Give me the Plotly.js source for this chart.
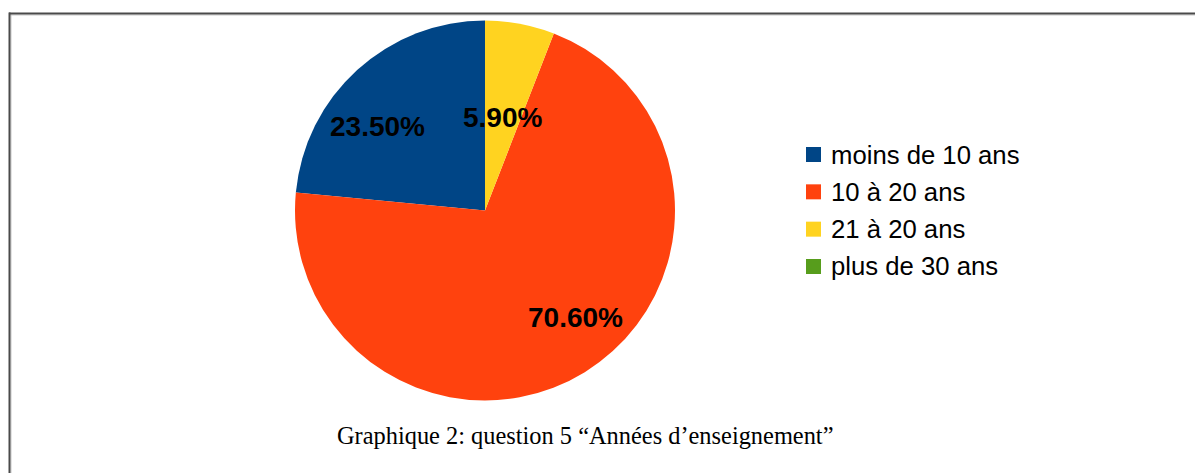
<!DOCTYPE html>
<html>
<head>
<meta charset="utf-8">
<script src="https://cdn.plot.ly/plotly-3.0.1.min.js"></script>
<style>html,body{margin:0;padding:0;background:#fff;}#chart{width:1195px;height:473px;}</style>
</head>
<body>
<div id="chart"></div>
<script>
// ---- data ----
var categories = ["moins de 10 ans", "10 à 20 ans", "21 à 20 ans", "plus de 30 ans"];
var values = [23.5, 70.6, 5.9, 0];
var colors = ["#004586", "#ff420e", "#ffd320", "#579d1c"];
var caption = "Graphique 2: question 5 \u201cAnnées d\u2019enseignement\u201d";

// ---- layout helpers (pixel -> paper) ----
var W = 1195, H = 473;
function px(x) { return x / W; }
function py(y) { return 1 - y / H; }

var cx = 485, cy = 210.5, R = 190;
var total = values.reduce(function (a, b) { return a + b; }, 0);

// Plotly's counterclockwise pies put the first slice right of 12 o'clock;
// rotate so the first slice starts at 12 o'clock going counterclockwise.
var trace = {
  type: "pie",
  labels: categories,
  values: values,
  sort: false,
  direction: "counterclockwise",
  rotation: -360 * values[0] / total,
  marker: { colors: colors, line: { width: 0 } },
  textinfo: "none",
  hoverinfo: "label+percent",
  showlegend: false,
  domain: { x: [px(cx - R), px(cx + R)], y: [py(cy + R), py(cy - R)] }
};

var annotations = [];
var shapes = [];

// slice labels, positioned from slice mid-angles
var cum = 0;
values.forEach(function (v, i) {
  if (v <= 0) { cum += v; return; }
  var mid = (cum + v / 2) / total;
  cum += v;
  var th = mid * 2 * Math.PI; // counterclockwise from top
  var sx = -Math.sin(th), up = Math.cos(th);
  var r = 0.5 * R;
  var x = cx + sx * r, y = cy - up * r;
  var xa = Math.abs(sx) < 0.38 ? "center" : (sx < 0 ? "right" : "left");
  var ya = xa === "center" ? "middle" : (up > 0 ? "bottom" : "top");
  annotations.push({
    xref: "paper", yref: "paper", x: px(x), y: py(y),
    xanchor: xa, yanchor: ya, showarrow: false,
    xshift: xa === "center" ? 0 : (sx < 0 ? 6 : -9),
    yshift: xa === "center" ? 0 : (up > 0 ? -4 : -9),
    text: (v / total * 100).toFixed(2) + "%",
    font: { family: "Liberation Sans, Arial, sans-serif", size: 28, color: "#000", weight: "bold" }
  });
});

// custom legend
var legX = 806, legY0 = 154.5, legDy = 37.33, sq = 15;
categories.forEach(function (c, i) {
  var yc = legY0 + i * legDy;
  shapes.push({
    type: "rect", xref: "paper", yref: "paper",
    x0: px(legX), x1: px(legX + sq), y0: py(yc + sq / 2), y1: py(yc - sq / 2),
    fillcolor: colors[i], line: { width: 0 }
  });
  annotations.push({
    xref: "paper", yref: "paper", x: px(legX + 23), y: py(yc),
    xanchor: "left", yanchor: "middle", showarrow: false,
    text: c,
    font: { family: "Liberation Sans, Arial, sans-serif", size: 25.7, color: "#000" }
  });
});

// caption
annotations.push({
  xref: "paper", yref: "paper", x: px(584.5), y: py(435),
  xanchor: "center", yanchor: "middle", showarrow: false,
  text: caption,
  font: { family: "Liberation Serif, Times New Roman, serif", size: 24.4, color: "#000" }
});

// frame (top and left edges)
shapes.push({ type: "line", xref: "paper", yref: "paper", x0: px(9.5), x1: 1, y0: py(15), y1: py(15), line: { color: "#c8c8c8", width: 1 } });
shapes.push({ type: "line", xref: "paper", yref: "paper", x0: px(11), x1: px(11), y0: py(14), y1: 0, line: { color: "#c8c8c8", width: 1 } });
shapes.push({ type: "line", xref: "paper", yref: "paper", x0: px(9), x1: 1, y0: py(13.5), y1: py(13.5), line: { color: "#4a4a4a", width: 2 } });
shapes.push({ type: "line", xref: "paper", yref: "paper", x0: px(9.5), x1: px(9.5), y0: py(12.5), y1: 0, line: { color: "#4a4a4a", width: 2 } });

var layout = {
  width: W, height: H,
  margin: { l: 0, r: 0, t: 0, b: 0 },
  paper_bgcolor: "#ffffff",
  showlegend: false,
  annotations: annotations,
  shapes: shapes
};

Plotly.newPlot("chart", [trace], layout, { displayModeBar: false, staticPlot: true });
</script>
</body>
</html>
